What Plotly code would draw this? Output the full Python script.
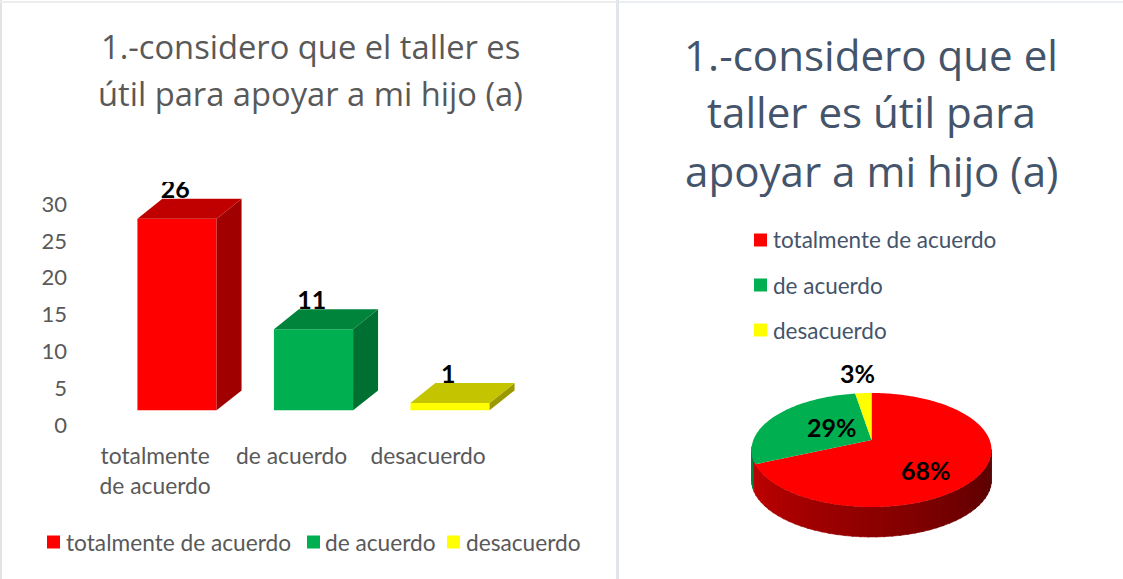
import math
import plotly.graph_objects as go

CATEGORIES = ["totalmente de acuerdo", "de acuerdo", "desacuerdo"]
TICK_LABELS = ["totalmente<br>de acuerdo", "de acuerdo", "desacuerdo"]
VALUES = [26, 11, 1]
Y_TICKS = [0, 5, 10, 15, 20, 25, 30]
TITLE_LEFT = ["1.-considero que el taller es", "útil para apoyar a mi hijo (a)"]
TITLE_RIGHT = ["1.-considero que el", "taller es útil para", "apoyar a mi hijo (a)"]

FRONT = ["#ff0000", "#00b050", "#ffff00"]
TOP = ["#c00000", "#00843c", "#c4c400"]
SIDE = ["#a00000", "#006f32", "#9a9a00"]
GREY = "#595959"
NAVY = "#44546a"
FONT = "Lato"
W, H = 1123, 579

fig = go.Figure()

# ---------- 3D column chart ----------
BAR_W = 0.58
LIFT = 2.0          # floor of the 3D box above the axis zero
DX = 0.183          # depth in x units
DY = 2.7            # depth in y units
PX_X = 136.5
PX_Y = 7.367
X0 = 177
Y0 = 425

for i, v in enumerate(VALUES):
    l, r = i - BAR_W / 2, i + BAR_W / 2
    t = LIFT + v
    fig.add_trace(go.Scatter(x=[r, r + DX, r + DX, r, r], y=[LIFT, LIFT + DY, t + DY, t, LIFT],
                             fill="toself", fillcolor=SIDE[i], mode="none", showlegend=False,
                             hoverinfo="skip", xaxis="x", yaxis="y"))
    fig.add_trace(go.Scatter(x=[l, l + DX, r + DX, r, l], y=[t, t + DY, t + DY, t, t],
                             fill="toself", fillcolor=TOP[i], mode="none", showlegend=False,
                             hoverinfo="skip", xaxis="x", yaxis="y"))

fig.add_trace(go.Bar(x=[0, 1, 2], y=VALUES, base=LIFT, width=BAR_W, marker=dict(color=FRONT, line_width=0),
                     showlegend=False, xaxis="x", yaxis="y"))
fig.add_trace(go.Scatter(x=[i - 0.012 for i in range(3)], y=[v + LIFT + 3.6 for v in VALUES],
                         text=[str(v) for v in VALUES], mode="text", textposition="middle center",
                         textfont=dict(family=FONT, size=25, color="#000000", weight="bold"),
                         showlegend=False, xaxis="x", yaxis="y"))

# ---------- 3D pie chart ----------
TOTAL = sum(VALUES)
APEX = 10 / 57      # slice apex above the ellipse centre, in ellipse-radius units
DEPTH = 30 / 57


def rim(theta):
    """Ray from the apex through the projected angle, up to the ellipse rim."""
    dx, dy = math.sin(theta), math.cos(theta)
    a = dx * dx + dy * dy
    b = 2 * APEX * dy
    c = APEX * APEX - 1
    s = (-b + math.sqrt(b * b - 4 * a * c)) / (2 * a)
    return s * dx, APEX + s * dy


# side wall, as vertical strips shaded left to right
edges = [0.0]
for v in VALUES:
    edges.append(edges[-1] + v / TOTAL * 2 * math.pi)
STRIPS = 48
start_phi, end_phi = math.pi * 1.5 + 0.06, math.pi * 0.5
for k in range(STRIPS):
    p0 = start_phi + (end_phi - start_phi) * k / STRIPS
    p1 = start_phi + (end_phi - start_phi) * (k + 1.15) / STRIPS
    xs, ys = [], []
    for j in range(5):
        p = p0 + (p1 - p0) * j / 4
        xs.append(math.sin(p))
        ys.append(math.cos(p))
    xb = xs + xs[::-1] + [xs[0]]
    yb = [y - DEPTH for y in ys] + ys[::-1] + [ys[0] - DEPTH]
    f = k / (STRIPS - 1)
    red = round(200 - 115 * f)
    colour = f"rgb({red},0,0)"
    if xs[0] < -0.985 and ys[0] > -0.2:
        colour = "#00803a"
    fig.add_trace(go.Scatter(x=xb, y=yb, fill="toself", fillcolor=colour, mode="lines",
                             line=dict(color=colour, width=0.6),
                             showlegend=False, hoverinfo="skip", xaxis="x2", yaxis="y2"))

# top face wedges from the shares
for i in range(3):
    a0, a1 = edges[i], edges[i + 1]
    n = max(4, int((a1 - a0) * 40))
    pts = [rim(a0 + (a1 - a0) * j / n) for j in range(n + 1)]
    xs = [0.0] + [p[0] for p in pts] + [0.0]
    ys = [APEX] + [p[1] for p in pts] + [APEX]
    fig.add_trace(go.Scatter(x=xs, y=ys, fill="toself", fillcolor=FRONT[i], mode="none",
                             showlegend=False, hoverinfo="skip", name=CATEGORIES[i],
                             xaxis="x2", yaxis="y2"))

PCT_POS = [(926, 470), (832, 427), (857, 373)]
annotations = []
for v, (px, py) in zip(VALUES, PCT_POS):
    annotations.append(dict(text=f"{round(v / TOTAL * 100)}%", x=px / W, y=1 - py / H, xref="paper", yref="paper",
                            showarrow=False, xanchor="center", yanchor="middle",
                            font=dict(family=FONT, size=25, color="#000000", weight="bold")))

# ---------- titles ----------
for line, py in zip(TITLE_LEFT, [47, 94]):
    annotations.append(dict(text=line, x=310 / W, y=1 - py / H, xref="paper", yref="paper", showarrow=False,
                            xanchor="center", yanchor="middle", font=dict(family="Open Sans", size=32.7, color=GREY)))
for line, py in zip(TITLE_RIGHT, [54, 112, 170]):
    annotations.append(dict(text=line, x=871 / W, y=1 - py / H, xref="paper", yref="paper", showarrow=False,
                            xanchor="center", yanchor="middle", font=dict(family="Open Sans", size=42.1, color=NAVY)))

# ---------- legends (swatches + real text) ----------
shapes = []


def swatch(px0, py, colour, size=13):
    shapes.append(dict(type="rect", xref="paper", yref="paper", x0=px0 / W, x1=(px0 + size) / W,
                       y0=1 - (py + size / 2) / H, y1=1 - (py - size / 2) / H,
                       fillcolor=colour, line_width=0))


def legend_text(px, py, text, colour, size):
    annotations.append(dict(text=text, x=px / W, y=1 - py / H, xref="paper", yref="paper", showarrow=False,
                            xanchor="left", yanchor="middle", font=dict(family=FONT, size=size, color=colour)))


for (sx, tx), c, name in zip([(47, 64), (307, 323), (447, 464)], FRONT, CATEGORIES):
    swatch(sx, 542, c)
    legend_text(tx, 542, name, GREY, 22.7)
for py, c, name in zip([240, 285, 330], FRONT, CATEGORIES):
    swatch(754, py, c)
    legend_text(771, py, name, NAVY, 22.5)

# ---------- panel frame ----------
for x0, x1, y0, y1, col in [(616, 619, 0, 579, "#e1e4ea"), (0, 2, 0, 579, "#e3e3e3"),
                            (0, 616, 1, 3, "#efecec"), (619, 1123, 1, 3, "#ebeef4")]:
    shapes.append(dict(type="rect", xref="paper", yref="paper", x0=x0 / W, x1=x1 / W,
                       y0=1 - y1 / H, y1=1 - y0 / H, fillcolor=col, line_width=0))

# ---------- axes ----------
ax_left, ax_right = 68, 530
y_bot, y_top = 440.2, 182
fig.update_layout(
    width=W, height=H, autosize=False,
    margin=dict(l=0, r=0, t=0, b=0),
    paper_bgcolor="#ffffff", plot_bgcolor="rgba(0,0,0,0)",
    showlegend=False, barmode="overlay",
    annotations=annotations, shapes=shapes,
    xaxis=dict(domain=[ax_left / W, ax_right / W],
               range=[(ax_left - X0) / PX_X, (ax_right - X0) / PX_X],
               tickmode="array", tickvals=[i - 0.16 for i in range(3)], ticktext=TICK_LABELS,
               showgrid=False, zeroline=False, showline=False, ticks="",
               tickfont=dict(family=FONT, size=22.8, color=GREY), anchor="y"),
    yaxis=dict(domain=[1 - y_bot / H, 1 - y_top / H],
               range=[(Y0 - y_bot) / PX_Y, (Y0 - y_top) / PX_Y],
               tickmode="array", tickvals=Y_TICKS,
               showgrid=False, zeroline=False, showline=False, ticks="",
               tickfont=dict(family=FONT, size=22, color=GREY), anchor="x"),
    xaxis2=dict(domain=[(871.5 - 132) / W, (871.5 + 132) / W], range=[-1.1, 1.1], visible=False, anchor="y2"),
    yaxis2=dict(domain=[1 - 550 / H, 1 - 380 / H], range=[-100 / 57, 70 / 57], visible=False, anchor="x2"),
)

fig.write_html("out.html", config=dict(displayModeBar=False),
               post_script="document.body.style.margin='0';document.documentElement.style.overflow='hidden';")
